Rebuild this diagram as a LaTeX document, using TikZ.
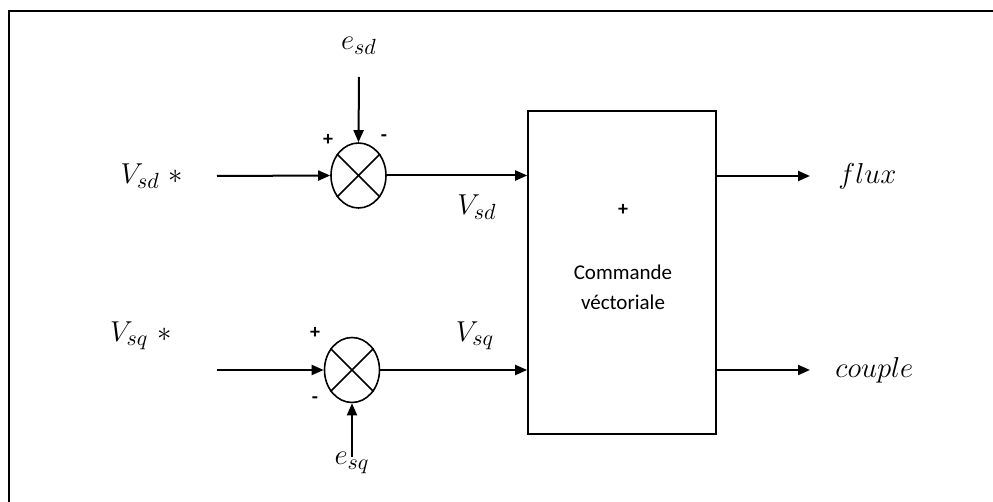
\documentclass[tikz,border=0pt]{standalone}
\usepackage{fontspec}
\newfontfamily\boxfont{Carlito}
\usetikzlibrary{shapes.geometric,arrows.meta}
\tikzset{
  wire/.style={line width=1pt,-{Triangle[length=6pt,width=5pt]}},
  summer/.style={draw,ellipse,line width=0.8pt,minimum width=27.5pt,minimum height=32.5pt,inner sep=0pt},
  mlabel/.style={font=\fontsize{15}{17}\selectfont,inner sep=0pt},
  sign/.style={font=\boxfont\bfseries\fontsize{10}{12}\selectfont,inner sep=0pt},
  blockbox/.style={draw,line width=0.8pt,minimum width=94pt,minimum height=161.5pt,inner sep=0pt}
}
\begin{document}
\begin{tikzpicture}[x=0.5pt,y=-0.5pt]
\useasboundingbox (0,0) rectangle (993,502);
% frame (right and bottom edges lie outside the picture)
\draw[line width=1pt] (1010,11) -- (9,11) -- (9,520);
% summers
\node[summer] (s1) at (358.5,175.5) {};
\node[summer] (s2) at (352,370) {};
\draw[line width=0.8pt] (s1.45) -- (s1.225) (s1.135) -- (s1.315);
\draw[line width=0.8pt] (s2.45) -- (s2.225) (s2.135) -- (s2.315);
% block
\node[blockbox] (blk) at (622,272.5) {};
\node[sign] (bplus) at (623,210) {+};
\node[font=\boxfont\fontsize{10.5}{15}\selectfont,align=center,inner sep=0pt] (btxt) at (623,287) {Commande\\v\'ectoriale};
% labels
\node[mlabel] (vsdstar) at (152,176) {$V_{sd}\ *$};
\node[mlabel] (vsqstar) at (141,336) {$V_{sq}\ *$};
\node[mlabel] (esd) at (359,46) {$e_{sd}$};
\node[mlabel] (esq) at (352,463) {$e_{sq}$};
\node[mlabel] (vsd) at (477,207) {$V_{sd}$};
\node[mlabel] (vsq) at (475,336) {$V_{sq}$};
\node[mlabel,anchor=west] (flux) at (838,176) {$flux$};
\node[mlabel,anchor=west] (couple) at (835,370) {$couple$};
\node[sign] (p1) at (328,140) {+};
\node[sign] (m1) at (384,138) {-};
\node[sign] (p2) at (315,333) {+};
\node[sign] (m2) at (315,400) {-};
% free ends
\coordinate (in1) at (217,176);
\coordinate (in2) at (217,370);
\coordinate (e1top) at (359,77);
\coordinate (e2bot) at (352,457);
\coordinate (o1) at (810,176);
\coordinate (o2) at (810,370);
% connectors
\draw[wire] (in1) -- (s1.west);
\draw[wire] (in2) -- (s2.west);
\draw[wire] (e1top) -- (s1.north);
\draw[wire] (e2bot) -- (s2.south);
\draw[wire] (s1.east) -- (s1.east -| blk.west);
\draw[wire] (s2.east) -- (s2.east -| blk.west);
\draw[wire] (blk.east |- o1) -- (o1);
\draw[wire] (blk.east |- o2) -- (o2);
\end{tikzpicture}
\end{document}
